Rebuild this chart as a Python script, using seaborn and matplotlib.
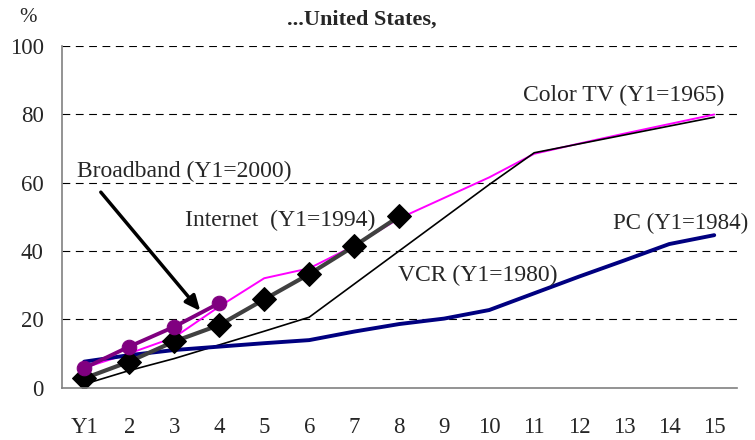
import numpy as np
import pandas as pd
import seaborn as sns
import matplotlib.pyplot as plt

years = ["Y1", "2", "3", "4", "5", "6", "7", "8", "9", "10", "11", "12", "13", "14", "15"]
color_tv = [5.8, 10, 14.7, 23.7, 32, 34.9, 41.5, 49.5, 55.5, 61.5, 68.4, 71.4, 74.3, 77.1, 79.9]
vcr = [1, 5, 8.5, 12.5, 16.5, 20.6, 30.3, 40, 49.7, 59.4, 68.7, 71.3, 73.9, 76.5, 79.1]
pc = [7.6, 9.5, 11, 12, 13, 13.9, 16.4, 18.6, 20.2, 22.7, 27.6, 32.5, 37.2, 42, 44.6]
internet = [2.7, 7.6, 13.5, 18.3, 25.8, 33.2, 41.4, 50.1]
broadband = [5.7, 12, 17.8, 24.7]

sns.set_style("white")
plt.rcParams['font.family'] = ['Liberation Serif', 'DejaVu Serif']

fig, ax = plt.subplots(figsize=(7.55, 4.40), dpi=100)
fig.subplots_adjust(left=0.0817, right=0.9758, top=0.896, bottom=0.119)

x15 = np.arange(1, 16)
sns.lineplot(x=x15, y=color_tv, color="#FF00FF", linewidth=1.4, ax=ax)
sns.lineplot(x=x15, y=vcr, color="black", linewidth=1.2, ax=ax)
sns.lineplot(x=x15, y=pc, color="#000080", linewidth=2.8, ax=ax)
sns.lineplot(x=np.arange(1, len(internet) + 1), y=internet, color="#404040", linewidth=3,
             marker="D", markersize=12, markerfacecolor="black", markeredgecolor="black", ax=ax)
sns.lineplot(x=np.arange(1, len(broadband) + 1), y=broadband, color="#800080", linewidth=2.8,
             marker="o", markersize=10.5, markerfacecolor="#800080", markeredgecolor="#800080", ax=ax)

ax.set_xlim(0.5, 15.5)
ax.set_ylim(0, 100)
ax.set_yticks(range(0, 101, 20))
ax.set_xticks(x15)
ax.set_xticklabels(years)
ax.set_xticks(np.arange(0.5, 16, 1), minor=True)
ax.tick_params(axis="x", which="major", length=0, pad=21, labelsize=16.5)
ax.tick_params(axis="x", which="minor", length=5, width=1, color="#808080", direction="out")
ax.tick_params(axis="y", length=12, width=1, color="#808080", direction="inout", labelsize=16.5, pad=7)
ax.set_xlabel("")
ax.set_ylabel("")

for v in range(20, 101, 20):
    ax.axhline(v, color="black", linewidth=0.8, linestyle=(0, (7, 5)), zorder=0)

for s in ["top", "right"]:
    ax.spines[s].set_visible(False)
for s in ["left", "bottom"]:
    ax.spines[s].set_color("#808080")
    ax.spines[s].set_linewidth(1.2)

fs = 17
ax.text(10.75, 85.6, "Color TV (Y1=1965)", fontsize=fs, va="center", ha="left")
ax.text(12.74, 48.1, "PC (Y1=1984)", fontsize=16.5, va="center", ha="left", clip_on=False)
ax.text(7.97, 32.9, "VCR (Y1=1980)", fontsize=fs, va="center", ha="left")
ax.text(3.24, 49, "Internet  (Y1=1994)", fontsize=fs, va="center", ha="left")
ax.text(0.83, 63.2, "Broadband (Y1=2000)", fontsize=fs, va="center", ha="left")
ax.annotate("", xy=(3.62, 21.8), xytext=(1.33, 57.8),
            arrowprops=dict(arrowstyle="-|>,head_length=0.9,head_width=0.4", color="black", lw=2.5))

fig.text(362 / 755, 1 - 20 / 440, "...United States,", fontsize=16, fontweight="bold", ha="center", va="center")
fig.text(28 / 755, 1 - 18 / 440, "%", fontsize=15, ha="center", va="center")

fig.savefig("out.png", dpi=100)
